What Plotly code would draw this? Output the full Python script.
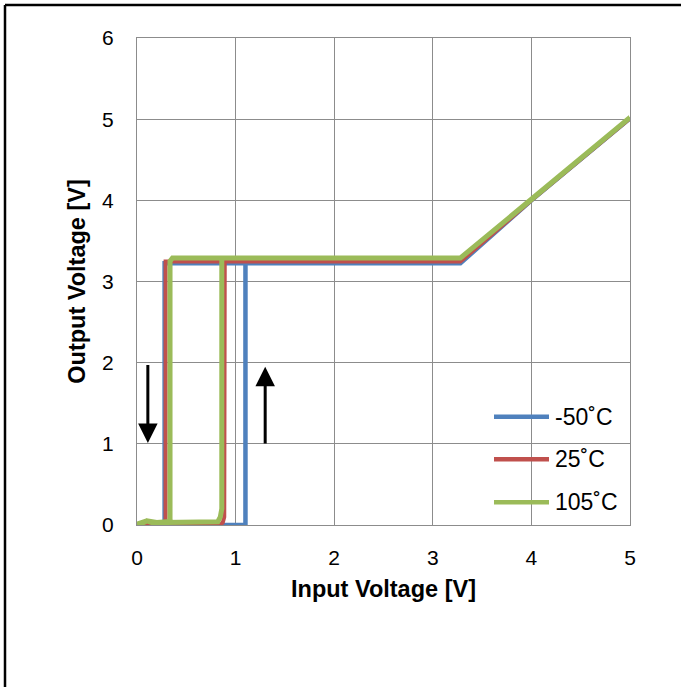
import plotly.graph_objects as go

# ---- data (input sweep up then back down) ----
blue_x = [0.00, 0.60, 1.10, 1.10, 2.00, 3.28, 4.00, 5.00, 4.00, 3.28, 2.00, 0.28, 0.28, 0.00]
blue_y = [0.00, 0.00, 0.00, 3.225, 3.225, 3.225, 4.00, 5.01, 4.00, 3.225, 3.225, 3.225, 0.00, 0.00]

red_x = [0.00, 0.50, 0.84, 0.87, 0.885, 0.89, 2.00, 3.28, 4.00, 5.00, 4.00, 3.28, 2.00, 0.29, 0.29, 0.00]
red_y = [0.00, 0.00, 0.00, 0.03, 0.10, 3.245, 3.245, 3.245, 4.00, 5.01, 4.00, 3.245, 3.245, 3.245, 0.00, 0.00]

green_x = [0.00, 0.05, 0.10, 0.15, 0.25, 0.33, 0.45, 0.60, 0.75, 0.82, 0.845, 0.86, 0.86, 2.00, 3.28,
           4.00, 5.00, 4.00, 3.28, 2.00, 0.36, 0.335, 0.335, 0.30, 0.20, 0.10, 0.00]
green_y = [0.01, 0.02, 0.05, 0.03, 0.03, 0.03, 0.03, 0.03, 0.03, 0.04, 0.10, 0.20, 3.29, 3.29, 3.29,
           4.01, 5.02, 4.01, 3.29, 3.29, 3.29, 3.25, 0.03, 0.04, 0.03, 0.05, 0.01]

series_names = ["-50˚C", "25˚C", "105˚C"]
series_colors = ["#4F81BD", "#C0504D", "#9BBB59"]
series_widths = [4.5, 4.0, 5.0]

x_ticks = [0, 1, 2, 3, 4, 5]
y_ticks = [0, 1, 2, 3, 4, 5, 6]

W, H = 681, 687
L, R, T, B = 137, 630, 38, 525  # plot area in px

def px2paper_x(px):
    return (px - L) / (R - L)

def px2paper_y(py):
    return (B - py) / (B - T)

fig = go.Figure()
for xs, ys, name, col, w in zip([blue_x, red_x, green_x], [blue_y, red_y, green_y],
                                series_names, series_colors, series_widths):
    fig.add_trace(go.Scatter(x=xs, y=ys, mode="lines", name=name,
                             line=dict(color=col, width=w), showlegend=False))

grid = "#8C8C8C"
font = "Liberation Sans, Arial, sans-serif"

fig.update_layout(
    width=W, height=H,
    margin=dict(l=L, r=W - R, t=T, b=H - B, pad=0),
    paper_bgcolor="white", plot_bgcolor="white",
    font=dict(family=font, color="black", size=21),
    xaxis=dict(range=[0, 5], tickvals=x_ticks, showgrid=True, gridcolor=grid, gridwidth=1.3,
               showline=True, linecolor=grid, linewidth=1.3, mirror=True, zeroline=False,
               ticks="", ticklabelstandoff=14, tickfont=dict(size=21),
               title=dict(text="<b>Input Voltage [V]</b>", font=dict(size=23.5), standoff=12)),
    yaxis=dict(range=[0, 6], tickvals=y_ticks, showgrid=True, gridcolor=grid, gridwidth=1.3,
               showline=True, linecolor=grid, linewidth=1.3, mirror=True, zeroline=False,
               ticks="", ticklabelstandoff=18, tickfont=dict(size=21),
               title=dict(text="<b>Output Voltage [V]</b>", font=dict(size=23.5), standoff=9)),
)

# outer frame (top and left edges visible)
fig.add_shape(type="line", xref="paper", yref="paper",
              x0=px2paper_x(5), x1=px2paper_x(720), y0=px2paper_y(5), y1=px2paper_y(5),
              line=dict(color="black", width=2.5))
fig.add_shape(type="line", xref="paper", yref="paper",
              x0=px2paper_x(5), x1=px2paper_x(5), y0=px2paper_y(5), y1=px2paper_y(720),
              line=dict(color="black", width=2.5))

# manual legend
leg_y = [416.7, 459.3, 502.3]
for name, col, py in zip(series_names, series_colors, leg_y):
    fig.add_shape(type="line", xref="paper", yref="paper",
                  x0=px2paper_x(494), x1=px2paper_x(549), y0=px2paper_y(py), y1=px2paper_y(py),
                  line=dict(color=col, width=4.5))
    fig.add_annotation(xref="paper", yref="paper", x=px2paper_x(553), y=px2paper_y(py),
                       text=name, showarrow=False, xanchor="left", yanchor="middle",
                       font=dict(size=23, family=font, color="black"))

# hysteresis arrows
fig.add_annotation(x=0.11, y=1.01, ax=0.11, ay=1.99, xref="x", yref="y", axref="x", ayref="y",
                   text="", showarrow=True, arrowhead=2, arrowsize=1.3, arrowwidth=3, arrowcolor="black")
fig.add_annotation(x=1.30, y=1.95, ax=1.30, ay=0.985, xref="x", yref="y", axref="x", ayref="y",
                   text="", showarrow=True, arrowhead=2, arrowsize=1.3, arrowwidth=3, arrowcolor="black")

fig.write_html("out.html", config={"displayModeBar": False},
               post_script="document.body.style.margin='0';document.body.style.overflow='hidden';")
